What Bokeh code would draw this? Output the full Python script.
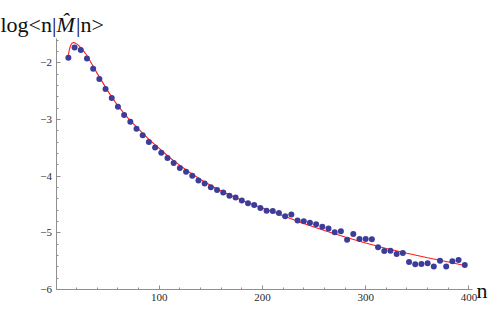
from bokeh.plotting import figure
from bokeh.models import Range1d, FixedTicker, Label
from bokeh.embed import file_html
from bokeh.resources import INLINE

# ---- data ----
n_points = [12, 18, 24, 30, 36, 42, 48, 54, 60, 66, 72, 78, 84, 90, 96, 102,
            108, 114, 120, 126, 132, 138, 144, 150, 156, 162, 168, 174, 180,
            186, 192, 198, 204, 210, 216, 222, 228, 234, 240, 246, 252, 258,
            264, 270, 276, 282, 288, 294, 300, 306, 312, 318, 324, 330, 336,
            342, 348, 354, 360, 366, 372, 378, 384, 390, 396]
log_m = [-1.908, -1.728, -1.775, -1.925, -2.106, -2.286, -2.46, -2.622, -2.774,
         -2.918, -3.04, -3.162, -3.279, -3.395, -3.493, -3.587, -3.679, -3.767,
         -3.854, -3.923, -3.993, -4.075, -4.127, -4.197, -4.242, -4.289, -4.347,
         -4.376, -4.429, -4.476, -4.51, -4.563, -4.608, -4.615, -4.65, -4.707,
         -4.678, -4.782, -4.794, -4.824, -4.847, -4.894, -4.922, -4.991, -4.974,
         -5.12, -5.021, -5.108, -5.108, -5.113, -5.253, -5.321, -5.314, -5.373,
         -5.357, -5.514, -5.556, -5.552, -5.538, -5.594, -5.493, -5.596, -5.503,
         -5.481, -5.566]

fit_n = [12, 13, 14, 15, 16, 17, 18, 20, 22, 25, 30, 35, 40, 45, 50, 55, 60,
         70, 80, 90, 100, 110, 120, 130, 140, 150, 160, 170, 180, 190, 200,
         220, 240, 260, 280, 300, 320, 340, 360, 380, 396]
fit_v = [-1.86, -1.76, -1.70, -1.665, -1.648, -1.642, -1.645, -1.665, -1.695,
         -1.75, -1.87, -2.03, -2.19, -2.34, -2.49, -2.63, -2.76, -2.98, -3.17,
         -3.35, -3.51, -3.67, -3.81, -3.94, -4.06, -4.165, -4.26, -4.345,
         -4.425, -4.495, -4.56, -4.70, -4.835, -4.96, -5.075, -5.18, -5.275,
         -5.36, -5.44, -5.515, -5.575]

x_major = [100, 200, 300, 400]
x_minor = [20, 40, 60, 80, 120, 140, 160, 180, 220, 240, 260, 280, 320, 340,
           360, 380, 400]
y_major = [-6, -5, -4, -3, -2]
y_minor = [-5.8, -5.6, -5.4, -5.2, -4.8, -4.6, -4.4, -4.2, -3.8, -3.6, -3.4,
           -3.2, -2.8, -2.6, -2.4, -2.2, -1.8, -1.6]

x_axis_span = (0, 403)
y_axis_span = (-6, -1.57)

# ---- layout (pixel geometry of the canvas) ----
W, H = 492, 302
X0_PX, X1_PX = 55.5, 471.5      # canvas px of x_axis_span ends
Y0_PX, Y1_PX = 289.0, 38.0      # canvas px of y_axis_span ends (bottom, top)
kx = (X1_PX - X0_PX) / (x_axis_span[1] - x_axis_span[0])
ky = (Y0_PX - Y1_PX) / (y_axis_span[1] - y_axis_span[0])


def dx(px):
    return x_axis_span[0] + (px - X0_PX) / kx


def dy(py):
    return y_axis_span[0] + (Y0_PX - py) / ky


SERIF = "Liberation Serif"
AXIS_GRAY = "#8f8f8f"
LABEL_COL = "#2a2a2a"
TITLE_COL = "#111111"

p = figure(width=W, height=H, output_backend="svg", toolbar_location=None,
           x_range=Range1d(dx(0), dx(W)), y_range=Range1d(dy(H), dy(0)),
           min_border=0)
p.outline_line_color = None
p.xgrid.visible = False
p.ygrid.visible = False

p.line(fit_n, fit_v, line_color="#ff1a1a", line_width=1.1)
p.scatter(n_points, log_m, size=6, fill_color="#3d3d99", line_color=None)

for ax in (p.xaxis[0], p.yaxis[0]):
    ax.axis_line_color = AXIS_GRAY
    ax.major_tick_line_color = AXIS_GRAY
    ax.minor_tick_line_color = AXIS_GRAY
    ax.major_tick_in = 4
    ax.major_tick_out = 0
    ax.minor_tick_in = 2
    ax.minor_tick_out = 0
    ax.major_label_text_font = SERIF
    ax.major_label_text_font_size = "11px"
    ax.major_label_text_color = LABEL_COL

p.xaxis.ticker = FixedTicker(ticks=x_major, minor_ticks=x_minor)
p.yaxis.ticker = FixedTicker(ticks=y_major, minor_ticks=y_minor)
p.xaxis.bounds = x_axis_span
p.yaxis.bounds = y_axis_span
p.xaxis.fixed_location = y_axis_span[0]
p.yaxis.fixed_location = x_axis_span[0]
p.xaxis.major_label_standoff = 4
p.yaxis.major_label_standoff = 4
p.yaxis.major_label_overrides = {v: "\u2212" + str(abs(v)) for v in y_major}

# axis titles (Mathematica style)
FS = "22px"
p.add_layout(Label(x=dx(476), y=dy(290), text="n", text_font=SERIF,
                   text_font_size=FS, text_color=TITLE_COL,
                   text_baseline="alphabetic"))
p.add_layout(Label(x=dx(0), y=dy(24), text="log<n|", text_font=SERIF,
                   text_font_size=FS, text_color=TITLE_COL,
                   text_baseline="alphabetic"))
p.add_layout(Label(x=dx(56), y=dy(24), text="M\u0302", text_font=SERIF,
                   text_font_size=FS, text_font_style="italic",
                   text_color=TITLE_COL, text_baseline="alphabetic"))
p.add_layout(Label(x=dx(75.5), y=dy(24), text="|n>", text_font=SERIF,
                   text_font_size=FS, text_color=TITLE_COL,
                   text_baseline="alphabetic"))

open("out.html", "w").write(file_html(p, INLINE))
